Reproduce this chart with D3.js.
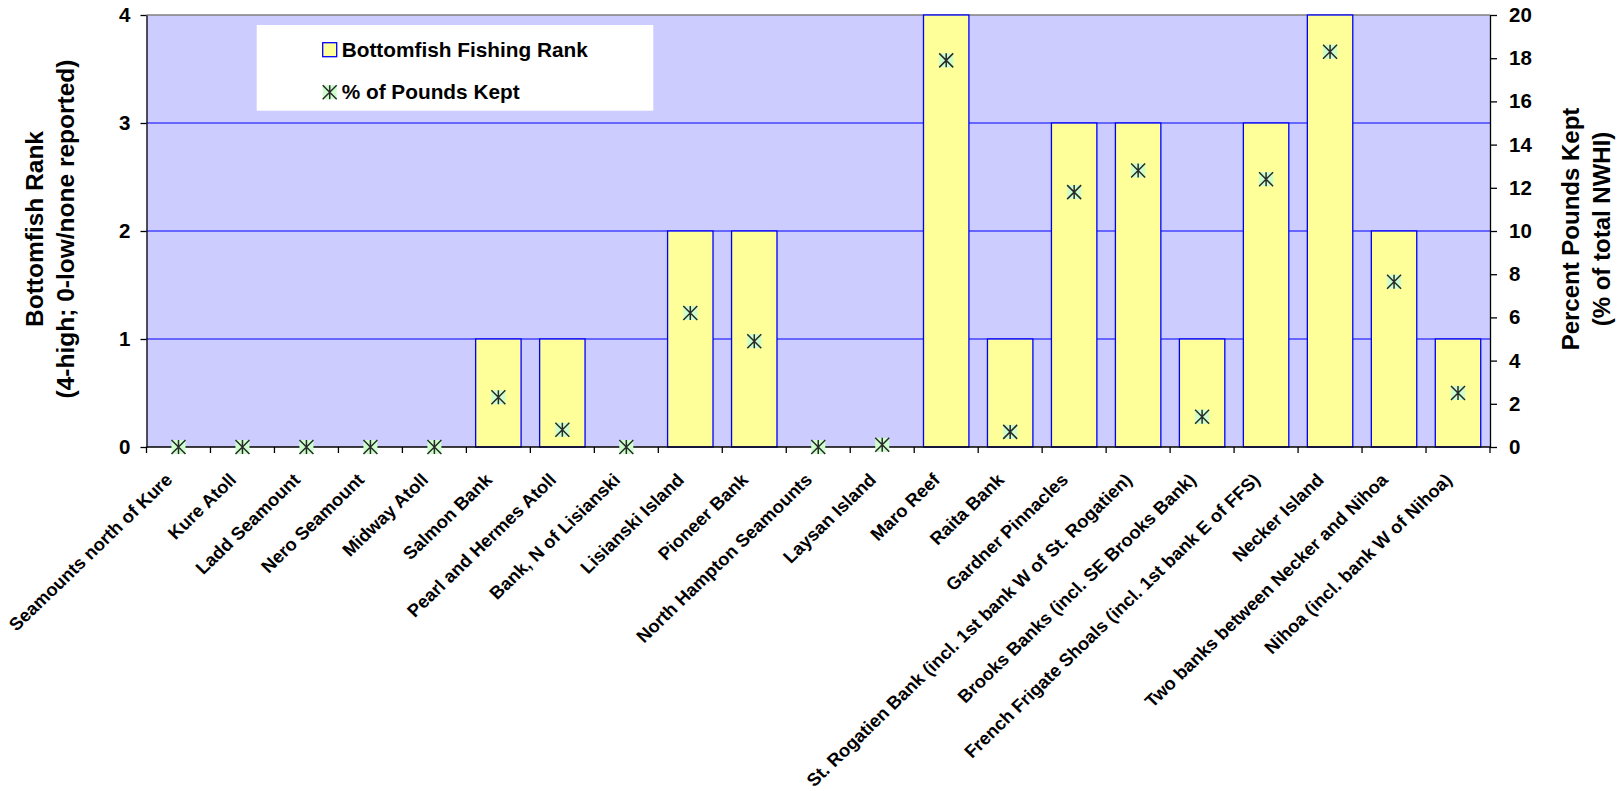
<!DOCTYPE html>
<html>
<head>
<meta charset="utf-8">
<script src="https://cdn.jsdelivr.net/npm/d3@7/dist/d3.min.js"></script>
<style>
  html, body { margin: 0; padding: 0; background: #ffffff; }
  svg { display: block; }
  text { font-family: "Liberation Sans", Arial, sans-serif; font-weight: bold; fill: #000; }
</style>
</head>
<body>
<svg id="chart" width="1621" height="791"></svg>
<script>
const categories = [
  "Seamounts north of Kure", "Kure Atoll", "Ladd Seamount", "Nero Seamount", "Midway Atoll",
  "Salmon Bank", "Pearl and Hermes Atoll", "Bank, N of Lisianski", "Lisianski Island", "Pioneer Bank",
  "North Hampton Seamounts", "Laysan Island", "Maro Reef", "Raita Bank", "Gardner Pinnacles",
  "St. Rogatien Bank (incl. 1st bank W of St. Rogatien)", "Brooks Banks (incl. SE Brooks Bank)",
  "French Frigate Shoals (incl. 1st bank E of FFS)", "Necker Island",
  "Two banks between Necker and Nihoa", "Nihoa (incl. bank W of Nihoa)"
];
const rankValues = [0, 0, 0, 0, 0, 1, 1, 0, 2, 2, 0, 0, 4, 1, 3, 3, 1, 3, 4, 2, 1];
const percentValues = [0, 0, 0, 0, 0, 2.3, 0.8, 0, 6.2, 4.9, 0, 0.1, 17.9, 0.7, 11.8, 12.8, 1.4, 12.4, 18.3, 7.65, 2.5];
const rankTicks = [0, 1, 2, 3, 4];
const rankGrid = [1, 2, 3];
const percentTicks = [0, 2, 4, 6, 8, 10, 12, 14, 16, 18, 20];
const seriesNames = ["Bottomfish Fishing Rank", "% of Pounds Kept"];
const leftTitle = ["Bottomfish Rank", "(4-high; 0-low/none reported)"];
const rightTitle = ["Percent Pounds Kept", "(% of total NWHI)"];

const svg = d3.select("#chart");
const L = 146.5, R = 1490, T = 15, B = 447;

const x = d3.scaleBand().domain(categories).range([L, R]).paddingInner(0.29).paddingOuter(0.145);
const yRank = d3.scaleLinear().domain([0, 4]).range([B, T]);
const yPct = d3.scaleLinear().domain([0, 20]).range([B, T]);
const center = d => x(d) + x.bandwidth() / 2;

// plot background
svg.append("rect").attr("x", L).attr("y", T).attr("width", R - L).attr("height", B - T).attr("fill", "#CCCCFF");

// gridlines
svg.append("g").selectAll("line").data(rankGrid).join("line")
  .attr("x1", L).attr("x2", R).attr("y1", d => yRank(d)).attr("y2", d => yRank(d))
  .attr("stroke", "#0000FF").attr("stroke-width", 1);

// top border
svg.append("line").attr("x1", L).attr("x2", R).attr("y1", T).attr("y2", T)
  .attr("stroke", "#808080").attr("stroke-width", 1.3);

// bars
svg.append("g").selectAll("rect").data(categories.map((c, i) => ({c, v: rankValues[i]})).filter(d => d.v > 0)).join("rect")
  .attr("x", d => x(d.c)).attr("width", x.bandwidth())
  .attr("y", d => yRank(d.v)).attr("height", d => yRank(0) - yRank(d.v))
  .attr("fill", "#FFFF99").attr("stroke", "#0000FF").attr("stroke-width", 1.3);

// axes
const gl = svg.append("g").attr("transform", `translate(${L},0)`)
  .call(d3.axisLeft(yRank).tickValues(rankTicks).tickSize(6).tickSizeOuter(0).tickPadding(10).tickFormat(d3.format("d")));
const gr = svg.append("g").attr("transform", `translate(${R},0)`)
  .call(d3.axisRight(yPct).tickValues(percentTicks).tickSize(7).tickSizeOuter(0).tickPadding(12).tickFormat(d3.format("d")));
[gl, gr].forEach(g => {
  g.select(".domain").attr("stroke", "#000").attr("stroke-width", 1.3);
  g.selectAll(".tick line").attr("stroke", "#000").attr("stroke-width", 1.3);
  g.selectAll(".tick text").style("font-size", "20.5px").style("font-family", "'Liberation Sans', Arial, sans-serif").style("font-weight", "bold").attr("fill", "#000");
});

// x axis line and boundary ticks
const boundaries = categories.map(c => center(c) - x.step() / 2).concat([center(categories[categories.length - 1]) + x.step() / 2]);
svg.append("line").attr("x1", L).attr("x2", R).attr("y1", B).attr("y2", B).attr("stroke", "#000").attr("stroke-width", 1.3);
svg.append("g").selectAll("line").data(boundaries).join("line")
  .attr("x1", d => d).attr("x2", d => d).attr("y1", B).attr("y2", B + 6)
  .attr("stroke", "#000").attr("stroke-width", 1.3);

// x labels
svg.append("g").selectAll("text").data(categories).join("text")
  .attr("transform", d => `translate(${center(d) - 5},${B + 34}) scale(1.04,1) rotate(-45)`)
  .attr("text-anchor", "end").style("font-size", "17.8px").text(d => d);

// markers
function marker(g, s) {
  const h = s / 2;
  g.append("rect").attr("x", -h).attr("y", -h).attr("width", s).attr("height", s).attr("fill", "#CCFFCC");
  g.append("path").attr("d", `M${-h},${-h}L${h},${h}M${h},${-h}L${-h},${h}M0,${-h}L0,${h}`)
    .attr("stroke", "#2a2a2a").attr("stroke-width", 1.5).attr("fill", "none");
}
svg.append("g").selectAll("g").data(categories.map((c, i) => ({c, v: percentValues[i]}))).join("g")
  .attr("transform", d => `translate(${center(d.c)},${yPct(d.v)})`)
  .each(function() { marker(d3.select(this), 14); });

// legend
const lg = svg.append("g");
lg.append("rect").attr("x", 256.7).attr("y", 25).attr("width", 396.6).attr("height", 85.7).attr("fill", "#fff");
lg.append("rect").attr("x", 322.7).attr("y", 42.7).attr("width", 14).attr("height", 14)
  .attr("fill", "#FFFF99").attr("stroke", "#0000FF").attr("stroke-width", 1.3);
lg.append("text").attr("x", 341.7).attr("y", 56.7).style("font-size", "20.8px").text(seriesNames[0]);
const lm = lg.append("g").attr("transform", "translate(329.7,92.2)");
marker(lm, 14);
lg.append("text").attr("x", 341.7).attr("y", 98.8).style("font-size", "20.8px").text(seriesNames[1]);

// axis titles
const cy = (T + B) / 2 - 2;
svg.append("g").selectAll("text").data(leftTitle).join("text")
  .attr("transform", (d, i) => `translate(${43 + i * 30.5},${cy}) rotate(-90)`)
  .attr("text-anchor", "middle").style("font-size", "24.5px").text(d => d);
svg.append("g").selectAll("text").data(rightTitle).join("text")
  .attr("transform", (d, i) => `translate(${1579 + i * 30.5},${cy}) rotate(-90)`)
  .attr("text-anchor", "middle").style("font-size", "24px").text(d => d);
</script>
</body>
</html>
